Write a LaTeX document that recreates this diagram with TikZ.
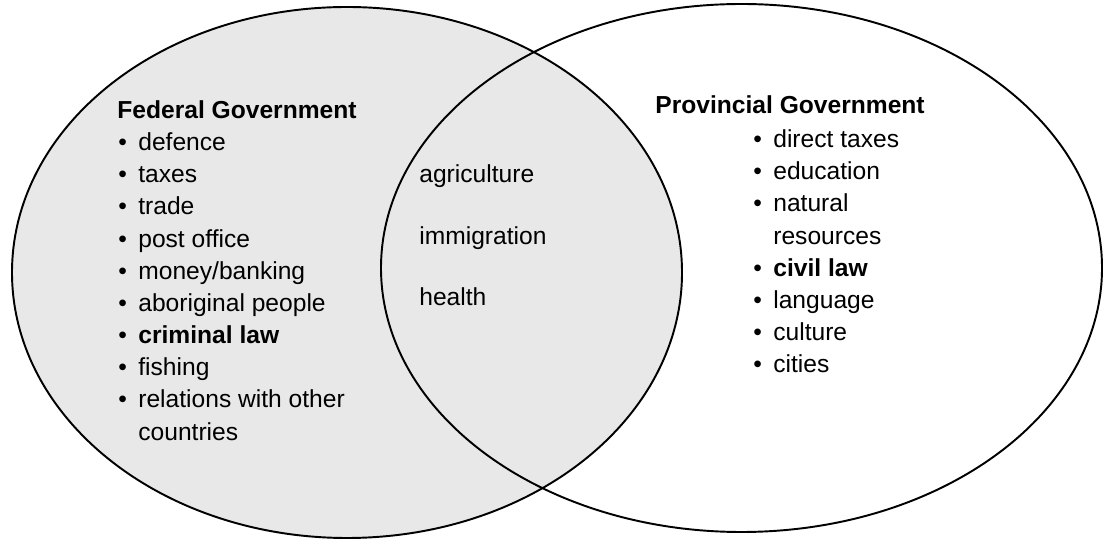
\documentclass[tikz,border=0pt]{standalone}
\usepackage{fontspec}
\setmainfont{Liberation Sans}
\definecolor{fedfill}{HTML}{E8E8E8}
\newcommand{\bul}[1]{\makebox[4mm][l]{\textbullet}#1}

\begin{document}
\begin{tikzpicture}[
  set/.style={draw, line width=1.1pt},
  title/.style={font=\fontsize{14}{18.3}\selectfont\bfseries, inner sep=0pt, anchor=north west},
  lst/.style={align=left, font=\fontsize{14}{18.3}\selectfont, inner sep=0pt, anchor=north west},
  mid/.style={align=left, font=\fontsize{14}{35}\selectfont, inner sep=0pt, anchor=north west},
]
\useasboundingbox (0,0) rectangle (22.2,10.8);

% the two sets
\draw[set, fill=fedfill] (6.94,5.35) ellipse [x radius=6.70, y radius=5.31];
\draw[set] (14.83,5.44) ellipse [x radius=7.21, y radius=5.28];

\node[title] (fedtitle) at (2.34,8.79) {Federal Government};
\node[lst] (fedlist) at (2.36,8.15) {\bul{defence}\\ \bul{taxes}\\ \bul{trade}\\
  \bul{post office}\\ \bul{money/banking}\\ \bul{aboriginal people}\\
  \bul{\textbf{criminal law}}\\ \bul{fishing}\\ \bul{relations with other}\\
  \hspace*{4mm}countries};

\node[mid] (shared) at (8.38,7.51) {agriculture\\ immigration\\ health};

\node[title] (provtitle) at (13.1,8.89) {Provincial Government};
\node[lst] (provlist) at (15.06,8.21) {\bul{direct taxes}\\ \bul{education}\\
  \bul{natural}\\ \hspace*{4mm}resources\\ \bul{\textbf{civil law}}\\
  \bul{language}\\ \bul{culture}\\ \bul{cities}};
\end{tikzpicture}
\end{document}
